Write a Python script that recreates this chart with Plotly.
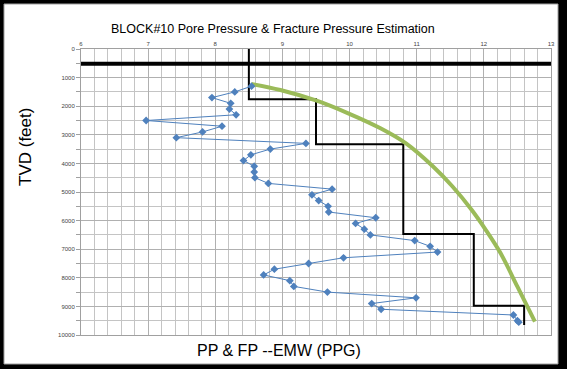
import plotly.graph_objects as go

# Pore pressure points (PPG) vs depth (ft)
pp_depth = [1300, 1500, 1700, 1900, 2100, 2300, 2500, 2700, 2900, 3100,
            3300, 3500, 3700, 3900, 4100, 4300, 4500, 4700, 4900, 5100,
            5300, 5500, 5700, 5900, 6100, 6300, 6500, 6700, 6900, 7100,
            7300, 7500, 7700, 7900, 8100, 8300, 8500, 8700, 8900, 9100,
            9300, 9500, 9550]
pp_value = [8.54, 8.29, 7.95, 8.23, 8.21, 8.31, 6.97, 8.10, 7.81, 7.42,
            9.35, 8.82, 8.53, 8.42, 8.58, 8.58, 8.59, 8.79, 9.74, 9.44,
            9.54, 9.68, 9.69, 10.39, 10.09, 10.22, 10.31, 10.97, 11.20, 11.31,
            9.91, 9.39, 8.88, 8.72, 9.11, 9.17, 9.67, 10.99, 10.33, 10.47,
            12.44, 12.50, 12.52]

# Fracture pressure curve
fp_depth = [1224, 1434, 1808, 2250, 2773, 3300, 4100, 4800, 5630,
            6330, 7145, 8310, 9535]
fp_value = [8.54, 8.97, 9.51, 9.98, 10.46, 10.84, 11.24, 11.53, 11.82,
            12.03, 12.25, 12.50, 12.76]

# Mud weight step line
mw_depth = [0, 1760, 1760, 3330, 3330, 6470, 6470, 8980, 8980, 9650]
mw_value = [8.5, 8.5, 9.5, 9.5, 10.8, 10.8, 11.85, 11.85, 12.6, 12.6]

# Casing shoe line
csg_depth = [520, 520]
csg_value = [6, 13]

x_ticks = [6, 7, 8, 9, 10, 11, 12, 13]
y_ticks = [0, 1000, 2000, 3000, 4000, 5000, 6000, 7000, 8000, 9000, 10000]

fig = go.Figure()
fig.add_trace(go.Scatter(x=csg_value, y=csg_depth, mode="lines",
                         line=dict(color="black", width=4), showlegend=False))
fig.add_trace(go.Scatter(x=mw_value, y=mw_depth, mode="lines",
                         line=dict(color="black", width=2), showlegend=False))
fig.add_trace(go.Scatter(x=fp_value, y=fp_depth, mode="lines",
                         line=dict(color="#9bbb59", width=4, shape="spline"),
                         showlegend=False))
fig.add_trace(go.Scatter(x=pp_value, y=pp_depth, mode="lines+markers",
                         line=dict(color="#4f81bd", width=1),
                         marker=dict(symbol="diamond", size=6, color="#4f81bd"),
                         showlegend=False))

L, R, T, B = 81, 16, 49, 34
W, H = 567, 369
pw, ph = W - L - R, H - T - B

def px(x):
    return (x - L) / pw

def py(y):
    return (H - B - y) / ph

fig.update_layout(
    width=W, height=H,
    margin=dict(l=L, r=R, t=T, b=B),
    paper_bgcolor="black",
    plot_bgcolor="white",
    font=dict(family="Liberation Sans", color="black"),
    shapes=[dict(type="rect", xref="paper", yref="paper",
                 x0=px(4), x1=px(558), y0=py(364), y1=py(4),
                 fillcolor="white", line=dict(color="#a0a0a0", width=1),
                 layer="below")],
    annotations=[
        dict(text="BLOCK#10 Pore Pressure & Fracture Pressure Estimation",
             xref="paper", yref="paper", x=px(273), y=py(29),
             xanchor="center", yanchor="middle",
             showarrow=False, font=dict(size=12.5, color="black",
                                        family="Liberation Sans")),
        dict(text="PP & FP --EMW (PPG)", xref="paper", yref="paper",
             x=px(279), y=py(350), xanchor="center", yanchor="middle",
             showarrow=False,
             font=dict(size=16, color="black", family="Liberation Sans")),
        dict(text="TVD (feet)", xref="paper", yref="paper",
             x=px(25), y=py(147), xanchor="center", yanchor="middle",
             showarrow=False, textangle=-90,
             font=dict(size=17, color="black", family="Liberation Sans")),
    ],
    xaxis=dict(range=[6, 13], side="top", tickvals=x_ticks,
               ticktext=[str(v) for v in x_ticks],
               tickfont=dict(size=6, color="#444"),
               showgrid=True, gridcolor="#b0b0b0", gridwidth=1,
               minor=dict(dtick=0.2, showgrid=True, gridcolor="#c4c4c4",
                          gridwidth=1),
               showline=True, linecolor="#a0a0a0", mirror=True,
               zeroline=False, ticks="", automargin=False),
    yaxis=dict(range=[10000, 0], tickvals=y_ticks,
               ticktext=[str(v) for v in y_ticks],
               tickfont=dict(size=6, color="#444"),
               showgrid=True, gridcolor="#b0b0b0", gridwidth=1,
               minor=dict(dtick=500, showgrid=True, gridcolor="#c4c4c4",
                          gridwidth=1, ticks="outside", ticklen=4,
                          tickcolor="#a0a0a0"),
               ticks="outside", ticklen=4, tickcolor="#a0a0a0",
               showline=True, linecolor="#a0a0a0", mirror=True,
               zeroline=False, automargin=False),
)

fig.write_html("out.html",
               config={"displayModeBar": False},
               post_script="document.body.style.margin='0';"
                           "document.body.style.overflow='hidden';")
